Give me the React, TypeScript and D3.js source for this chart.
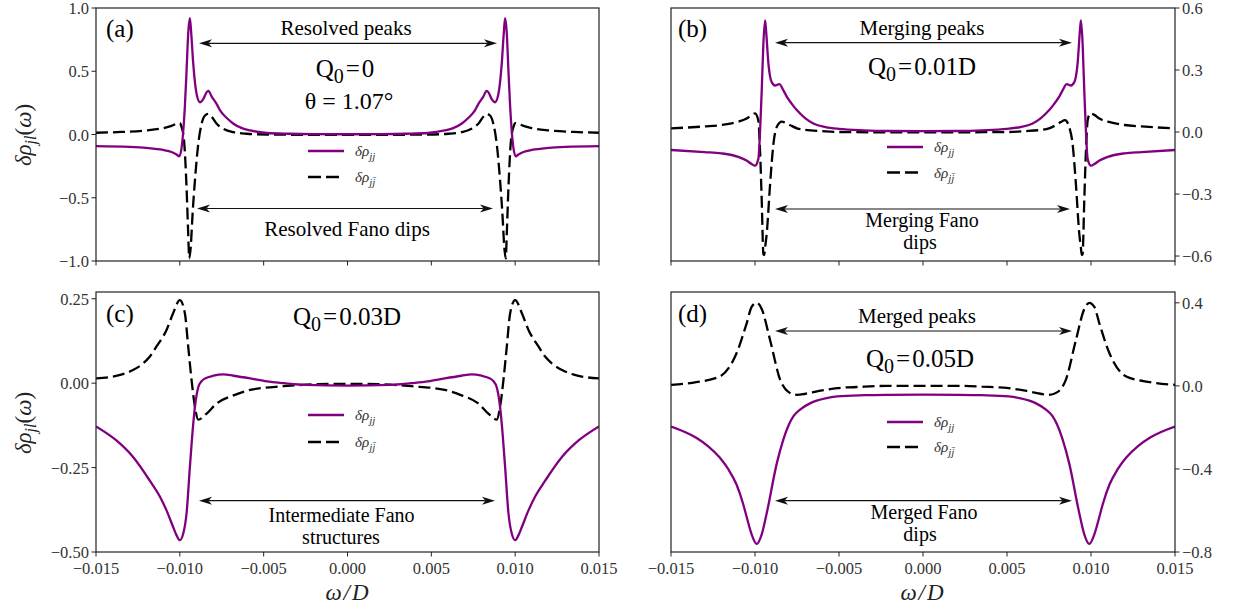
import React from "react";
import * as d3 from "d3";

type P = [number, number];

// ---------- tick values / labels ----------
const xTicks = [-0.015, -0.01, -0.005, 0, 0.005, 0.01, 0.015];
const xTickLabels = ["−0.015", "−0.010", "−0.005", "0.000", "0.005", "0.010", "0.015"];
const aYTicks = [1, 0.5, 0, -0.5, -1];
const aYTickLabels = ["1.0", "0.5", "0.0", "−0.5", "−1.0"];
const bYTicks = [0.6, 0.3, 0, -0.3, -0.6];
const bYTickLabels = ["0.6", "0.3", "0.0", "−0.3", "−0.6"];
const cYTicks = [0.25, 0, -0.25, -0.5];
const cYTickLabels = ["0.25", "0.00", "−0.25", "−0.50"];
const dYTicks = [0.4, 0, -0.4, -0.8];
const dYTickLabels = ["0.4", "0.0", "−0.4", "−0.8"];

// ---------- panel (a): Q0 = 0 ----------
const aSolid: P[] = [
  [-0.015, -0.092], [-0.013, -0.098], [-0.012, -0.106], [-0.011, -0.122], [-0.0105, -0.138], [-0.0102, -0.158],
  [-0.01003, -0.172], [-0.0099, -0.11], [-0.0098, 0.02], [-0.0097, 0.22], [-0.0096, 0.5], [-0.0095, 0.8],
  [-0.0094, 0.92], [-0.00932, 0.8], [-0.0092, 0.56], [-0.009, 0.32], [-0.0088, 0.255], [-0.0086, 0.28],
  [-0.0084, 0.335], [-0.0083, 0.345], [-0.0081, 0.3], [-0.0078, 0.24], [-0.0076, 0.19], [-0.0072, 0.13],
  [-0.0068, 0.085], [-0.0063, 0.05], [-0.0058, 0.032], [-0.0048, 0.012], [-0.0035, 0.006], [-0.002, 0.003],
  [0, 0.002],
  [0.002, 0.003], [0.0035, 0.006], [0.0048, 0.012], [0.0058, 0.032], [0.0063, 0.05], [0.0068, 0.085],
  [0.0072, 0.13], [0.0076, 0.19], [0.0078, 0.24], [0.0081, 0.3], [0.0083, 0.345], [0.0084, 0.335],
  [0.0086, 0.28], [0.0088, 0.255], [0.009, 0.32], [0.0092, 0.56], [0.00932, 0.8], [0.0094, 0.92],
  [0.0095, 0.8], [0.0096, 0.5], [0.0097, 0.22], [0.0098, 0.02], [0.0099, -0.11], [0.01003, -0.172],
  [0.0102, -0.158], [0.0105, -0.138], [0.011, -0.122], [0.012, -0.106], [0.013, -0.098], [0.015, -0.092],
];
const aDash: P[] = [
  [-0.015, 0.014], [-0.0135, 0.02], [-0.012, 0.032], [-0.011, 0.05], [-0.0105, 0.068], [-0.0102, 0.085],
  [-0.01, 0.09], [-0.0099, 0.06], [-0.00975, -0.047], [-0.0096, -0.417], [-0.0095, -0.785], [-0.00944, -0.98],
  [-0.00935, -0.89], [-0.00924, -0.627], [-0.0091, -0.364], [-0.0089, -0.074], [-0.0087, 0.085], [-0.0085, 0.15],
  [-0.0083, 0.163], [-0.0081, 0.14], [-0.0078, 0.085], [-0.0074, 0.045], [-0.0068, 0.018], [-0.006, 0.006],
  [-0.0048, 0.0], [-0.003, -0.002], [0, -0.002],
  [0.003, -0.002], [0.0048, 0.0], [0.006, 0.006], [0.0068, 0.018], [0.0074, 0.045], [0.0078, 0.085],
  [0.0081, 0.14], [0.0083, 0.163], [0.0085, 0.15], [0.0087, 0.085], [0.0089, -0.074], [0.0091, -0.364],
  [0.00924, -0.627], [0.00935, -0.89], [0.00944, -0.98], [0.0095, -0.785], [0.0096, -0.417], [0.00975, -0.047],
  [0.0099, 0.06], [0.01, 0.09], [0.0102, 0.085], [0.0105, 0.068], [0.011, 0.05], [0.012, 0.032],
  [0.0135, 0.02], [0.015, 0.014],
];

// ---------- panel (b): Q0 = 0.01D ----------
const bSolid: P[] = [
  [-0.015, -0.087], [-0.013, -0.097], [-0.012, -0.103], [-0.011, -0.12], [-0.0105, -0.138], [-0.0102, -0.155],
  [-0.01, -0.163], [-0.0098, -0.13], [-0.0097, 0.0], [-0.0096, 0.2], [-0.0095, 0.43], [-0.0094, 0.54],
  [-0.00935, 0.5], [-0.0092, 0.33], [-0.009, 0.24], [-0.0088, 0.225], [-0.00855, 0.232], [-0.0083, 0.2],
  [-0.0081, 0.17], [-0.0078, 0.135], [-0.0075, 0.105], [-0.007, 0.066], [-0.0065, 0.04], [-0.0058, 0.024],
  [-0.005, 0.015], [-0.0035, 0.008], [-0.002, 0.005], [0, 0.004],
  [0.002, 0.005], [0.0035, 0.008], [0.005, 0.015], [0.0058, 0.024], [0.0065, 0.04], [0.007, 0.066],
  [0.0075, 0.105], [0.0078, 0.135], [0.0081, 0.17], [0.0083, 0.2], [0.00855, 0.232], [0.0088, 0.225],
  [0.009, 0.24], [0.0092, 0.33], [0.00935, 0.5], [0.0094, 0.54], [0.0095, 0.43], [0.0096, 0.2],
  [0.0097, 0.0], [0.0098, -0.13], [0.01, -0.163], [0.0102, -0.155], [0.0105, -0.138], [0.011, -0.12],
  [0.012, -0.103], [0.013, -0.097], [0.015, -0.087],
];
const bDash: P[] = [
  [-0.015, 0.018], [-0.013, 0.027], [-0.012, 0.034], [-0.011, 0.05], [-0.0105, 0.065], [-0.0102, 0.083],
  [-0.01, 0.09], [-0.0098, 0.055], [-0.0097, -0.09], [-0.0096, -0.33], [-0.0095, -0.59], [-0.00945, -0.595],
  [-0.0094, -0.56], [-0.0093, -0.49], [-0.0091, -0.25], [-0.0089, -0.055], [-0.0087, 0.025], [-0.0084, 0.05],
  [-0.0082, 0.045], [-0.0079, 0.033], [-0.0075, 0.018], [-0.007, 0.01], [-0.006, 0.004], [-0.005, 0.0],
  [0, -0.002],
  [0.005, 0.0], [0.006, 0.004], [0.007, 0.01], [0.0075, 0.018], [0.0079, 0.033], [0.0082, 0.048],
  [0.00845, 0.058], [0.0087, 0.025], [0.0089, -0.055], [0.0091, -0.25], [0.0093, -0.49], [0.0094, -0.56],
  [0.00945, -0.595], [0.0095, -0.59], [0.0096, -0.33], [0.0097, -0.09], [0.0098, 0.055], [0.00995, 0.09],
  [0.0102, 0.083], [0.0105, 0.065], [0.011, 0.05], [0.012, 0.034], [0.013, 0.027], [0.015, 0.018],
];

// ---------- panel (c): Q0 = 0.03D ----------
const cSolid: P[] = [
  [-0.015, -0.128], [-0.0138, -0.169], [-0.0128, -0.218], [-0.0118, -0.288], [-0.0112, -0.335], [-0.0108, -0.376],
  [-0.0104, -0.426], [-0.0102, -0.45], [-0.01, -0.465], [-0.0098, -0.446], [-0.0096, -0.386], [-0.0094, -0.248],
  [-0.0092, -0.12], [-0.0091, -0.07], [-0.009, -0.035], [-0.0089, -0.012], [-0.0087, 0.006], [-0.0084, 0.016],
  [-0.008, 0.022], [-0.0074, 0.026], [-0.0068, 0.022],
  [-0.0058, 0.014], [-0.0048, 0.005], [-0.0038, 0.0], [-0.0025, -0.005], [0, -0.007],
  [0.0025, -0.005], [0.0038, 0.0], [0.0048, 0.005], [0.0058, 0.014], [0.0068, 0.022], [0.0074, 0.026],
  [0.008, 0.022], [0.0084, 0.016], [0.0087, 0.006], [0.0089, -0.012], [0.009, -0.035], [0.0091, -0.07],
  [0.0092, -0.12], [0.0094, -0.248], [0.0096, -0.386],
  [0.0098, -0.446], [0.01, -0.465], [0.0102, -0.45], [0.0104, -0.426], [0.0108, -0.376], [0.0112, -0.335],
  [0.0118, -0.288], [0.0128, -0.218], [0.0138, -0.169], [0.015, -0.128],
];
const cDash: P[] = [
  [-0.015, 0.014], [-0.0135, 0.025], [-0.0128, 0.039], [-0.0122, 0.058], [-0.0118, 0.078], [-0.0114, 0.108],
  [-0.0108, 0.157], [-0.0104, 0.207], [-0.01, 0.246], [-0.0097, 0.207], [-0.0095, 0.108], [-0.0093, 0.009],
  [-0.0091, -0.07], [-0.0089, -0.108], [-0.0084, -0.09], [-0.0078, -0.06], [-0.0068, -0.036], [-0.0058, -0.02],
  [-0.0038, -0.009], [-0.0018, -0.003], [0, -0.002],
  [0.0018, -0.003], [0.0038, -0.009], [0.0058, -0.02], [0.0068, -0.036], [0.0078, -0.06], [0.0084, -0.09],
  [0.0089, -0.108], [0.0091, -0.07], [0.0093, 0.009], [0.0095, 0.108], [0.0097, 0.207], [0.01, 0.246],
  [0.0104, 0.207], [0.0108, 0.157], [0.0114, 0.108], [0.0118, 0.078], [0.0122, 0.058], [0.0128, 0.039],
  [0.0135, 0.025], [0.015, 0.014],
];

// ---------- panel (d): Q0 = 0.05D ----------
const dSolid: P[] = [
  [-0.015, -0.196], [-0.0135, -0.25], [-0.0128, -0.29], [-0.0121, -0.345], [-0.0116, -0.4], [-0.0111, -0.475],
  [-0.0107, -0.57], [-0.0105, -0.63], [-0.0102, -0.715],
  [-0.0099, -0.761], [-0.0096, -0.715], [-0.0093, -0.612], [-0.0087, -0.372], [-0.0083, -0.255], [-0.008, -0.19],
  [-0.0077, -0.145], [-0.0073, -0.113],
  [-0.0067, -0.083], [-0.0058, -0.06], [-0.0051, -0.051], [-0.0035, -0.045], [-0.0022, -0.043], [0, -0.042],
  [0.0022, -0.043], [0.0035, -0.045], [0.0051, -0.051], [0.0058, -0.06], [0.0067, -0.083],
  [0.0073, -0.113], [0.0077, -0.145], [0.008, -0.19], [0.0083, -0.255],
  [0.0087, -0.372], [0.0093, -0.612], [0.0096, -0.715], [0.0099, -0.761], [0.0102, -0.715],
  [0.0105, -0.63], [0.0107, -0.57], [0.0111, -0.475], [0.0116, -0.4], [0.0121, -0.345], [0.0128, -0.29],
  [0.0135, -0.25], [0.015, -0.196],
];
const dDash: P[] = [
  [-0.015, 0.005], [-0.0135, 0.018], [-0.0121, 0.045], [-0.0111, 0.157], [-0.0105, 0.3], [-0.0102, 0.38],
  [-0.0099, 0.4], [-0.0096, 0.37], [-0.0091, 0.22], [-0.0085, 0.029], [-0.008, -0.03], [-0.0075, -0.043],
  [-0.007, -0.038], [-0.006, -0.022], [-0.0051, -0.011], [-0.0035, -0.004], [-0.0022, 0.0], [0, 0.0],
  [0.0022, 0.0], [0.0035, -0.004], [0.0051, -0.011], [0.006, -0.022], [0.007, -0.038], [0.0075, -0.043],
  [0.008, -0.03], [0.0085, 0.029], [0.0091, 0.22], [0.0096, 0.37], [0.0099, 0.4], [0.0102, 0.38],
  [0.0105, 0.3], [0.0111, 0.157], [0.0121, 0.045], [0.0135, 0.018], [0.015, 0.005],
];

const PURPLE = "#800080";
const SERIF = "'Liberation Serif', 'Times New Roman', serif";
const TICKC = "#333";

interface PanelProps {
  id: string;
  x0: number; x1: number; y0: number; y1: number;
  yDom: [number, number];
  yTicks: number[]; yLabels: string[];
  side: "left" | "right";
  showX: boolean;
  solid: P[]; dash: P[];
}

function Panel(p: PanelProps) {
  const x = d3.scaleLinear().domain([-0.015, 0.015]).range([p.x0, p.x1]);
  const y = d3.scaleLinear().domain(p.yDom).range([p.y1, p.y0]);
  const line = d3.line<P>().x(d => x(d[0])).y(d => y(d[1])).curve(d3.curveMonotoneX);
  const ax = p.side === "left" ? p.x0 : p.x1;
  return (
    <g>
      <defs>
        <clipPath id={"clip" + p.id}>
          <rect x={p.x0} y={p.y0} width={p.x1 - p.x0} height={p.y1 - p.y0} />
        </clipPath>
      </defs>
      <g clipPath={`url(#clip${p.id})`}>
        <path d={line(p.dash) || ""} fill="none" stroke="#000" strokeWidth={2.3} strokeDasharray="12,5" />
        <path d={line(p.solid) || ""} fill="none" stroke={PURPLE} strokeWidth={2.3} />
      </g>
      <rect x={p.x0} y={p.y0} width={p.x1 - p.x0} height={p.y1 - p.y0} fill="none" stroke="#222" strokeWidth={1.2} />
      {xTicks.map((t, i) => (
        <g key={"xt" + i}>
          <line x1={x(t)} x2={x(t)} y1={p.y1} y2={p.y1 + 4.5} stroke="#222" strokeWidth={1} />
          {p.showX && (
            <text x={x(t)} y={p.y1 + 22} textAnchor="middle" fontFamily={SERIF} fontSize={16.5} fill={TICKC}>
              {xTickLabels[i]}
            </text>
          )}
        </g>
      ))}
      {p.yTicks.map((t, i) => (
        <g key={"yt" + i}>
          <line x1={ax} x2={p.side === "left" ? ax - 4.5 : ax + 4.5} y1={y(t)} y2={y(t)} stroke="#222" strokeWidth={1} />
          <text
            x={p.side === "left" ? ax - 7 : ax + 7}
            y={y(t) + 6}
            textAnchor={p.side === "left" ? "end" : "start"}
            fontFamily={SERIF}
            fontSize={16.5}
            fill={TICKC}
          >
            {p.yLabels[i]}
          </text>
        </g>
      ))}
    </g>
  );
}

function Arrow({ xa, xb, yy }: { xa: number; xb: number; yy: number }) {
  const L = 13, w = 4, n = 9.5;
  return (
    <g>
      <line x1={xa + n} x2={xb - n} y1={yy} y2={yy} stroke="#111" strokeWidth={1.2} />
      <path d={`M${xb},${yy} L${xb - L},${yy - w} L${xb - n},${yy} L${xb - L},${yy + w} Z`} fill="#111" />
      <path d={`M${xa},${yy} L${xa + L},${yy - w} L${xa + n},${yy} L${xa + L},${yy + w} Z`} fill="#111" />
    </g>
  );
}

function Q0({ cx, y, val }: { cx: number; y: number; val: string }) {
  return (
    <text x={cx} y={y} textAnchor="middle" fontFamily={SERIF} fontSize={25} fill="#000">
      <tspan>Q</tspan>
      <tspan fontSize={20} dy={6}>0</tspan>
      <tspan dy={-6} dx={2}>=</tspan>
      <tspan dx={2}>{val}</tspan>
    </text>
  );
}

function Legend({ lx, ly1, ly2 }: { lx: number; ly1: number; ly2: number }) {
  return (
    <g>
      <line x1={lx} x2={lx + 36} y1={ly1} y2={ly1} stroke={PURPLE} strokeWidth={2.5} />
      <line x1={lx} x2={lx + 36} y1={ly2} y2={ly2} stroke="#000" strokeWidth={2.5} strokeDasharray="13,5" />
      <text x={lx + 47} y={ly1 + 5} fontFamily={SERIF} fontSize={15} fill={TICKC} fontStyle="italic">
        <tspan>δρ</tspan>
        <tspan fontSize={11} dy={4}>jj</tspan>
      </text>
      <text x={lx + 47} y={ly2 + 5} fontFamily={SERIF} fontSize={15} fill={TICKC} fontStyle="italic">
        <tspan>δρ</tspan>
        <tspan fontSize={11} dy={4}>{"jj\u0304"}</tspan>
      </text>
    </g>
  );
}

function YLabel({ cx, cy }: { cx: number; cy: number }) {
  return (
    <text transform={`translate(${cx},${cy}) rotate(-90)`} textAnchor="middle" fontFamily={SERIF} fontSize={23} fill="#222">
      <tspan fontStyle="italic">δρ</tspan>
      <tspan fontStyle="italic" fontSize={16} dy={5}>jl</tspan>
      <tspan dy={-5}>(</tspan>
      <tspan fontStyle="italic">ω</tspan>
      <tspan>)</tspan>
    </text>
  );
}

const T = ({ x, y, s = 21, children }: { x: number; y: number; s?: number; children: React.ReactNode }) => (
  <text x={x} y={y} textAnchor="middle" fontFamily={SERIF} fontSize={s} fill="#000">{children}</text>
);

export default function App() {
  return (
    <div style={{ position: "absolute", left: 0, top: 0 }}>
      <svg width={1238} height={612} style={{ display: "block", background: "#fff" }}>
        <Panel id="a" x0={96} x1={599} y0={8} y1={261} yDom={[-1, 1]} yTicks={aYTicks} yLabels={aYTickLabels}
          side="left" showX={false} solid={aSolid} dash={aDash} />
        <Panel id="b" x0={671} x1={1175} y0={8} y1={261} yDom={[-0.624, 0.6]} yTicks={bYTicks} yLabels={bYTickLabels}
          side="right" showX={false} solid={bSolid} dash={bDash} />
        <Panel id="c" x0={96} x1={599} y0={292} y1={552} yDom={[-0.5, 0.27]} yTicks={cYTicks} yLabels={cYTickLabels}
          side="left" showX={true} solid={cSolid} dash={cDash} />
        <Panel id="d" x0={671} x1={1175} y0={292} y1={552} yDom={[-0.8, 0.452]} yTicks={dYTicks} yLabels={dYTickLabels}
          side="right" showX={true} solid={dSolid} dash={dDash} />

        {/* panel letters */}
        <text x={106} y={37} fontFamily={SERIF} fontSize={25}>(a)</text>
        <text x={678} y={37} fontFamily={SERIF} fontSize={25}>(b)</text>
        <text x={106} y={322} fontFamily={SERIF} fontSize={25}>(c)</text>
        <text x={678} y={322} fontFamily={SERIF} fontSize={25}>(d)</text>

        {/* (a) annotations */}
        <T x={346} y={35}>Resolved peaks</T>
        <Arrow xa={199} xb={497} yy={43.3} />
        <Q0 cx={345} y={77} val="0" />
        <T x={349} y={109} s={24}>θ = 1.07°</T>
        <Legend lx={308} ly1={151} ly2={177} />
        <Arrow xa={197} xb={493} yy={208.5} />
        <T x={347} y={236}>Resolved Fano dips</T>

        {/* (b) annotations */}
        <T x={922} y={35}>Merging peaks</T>
        <Arrow xa={775} xb={1072} yy={42.7} />
        <Q0 cx={922} y={75} val="0.01D" />
        <Legend lx={887} ly1={147} ly2={172.5} />
        <Arrow xa={775} xb={1070} yy={209} />
        <T x={922} y={227} s={20}>Merging Fano</T>
        <T x={920} y={249} s={20}>dips</T>

        {/* (c) annotations */}
        <Q0 cx={347} y={325} val="0.03D" />
        <Legend lx={308} ly1={415} ly2={442} />
        <Arrow xa={199} xb={495} yy={500.7} />
        <T x={341.5} y={522} s={20}>Intermediate Fano</T>
        <T x={341} y={544} s={20}>structures</T>

        {/* (d) annotations */}
        <T x={917} y={323}>Merged peaks</T>
        <Arrow xa={775} xb={1072} yy={331} />
        <Q0 cx={920} y={367} val="0.05D" />
        <Legend lx={887} ly1={422} ly2={447} />
        <Arrow xa={775} xb={1072} yy={500.7} />
        <T x={924} y={519} s={20}>Merged Fano</T>
        <T x={920} y={541} s={20}>dips</T>

        {/* axis labels */}
        <YLabel cx={31} cy={135} />
        <YLabel cx={31} cy={423} />
        <text x={348} y={600} textAnchor="middle" fontFamily={SERIF} fontSize={23} fontStyle="italic" letterSpacing={2} fill="#222">ω/D</text>
        <text x={923} y={600} textAnchor="middle" fontFamily={SERIF} fontSize={23} fontStyle="italic" letterSpacing={2} fill="#222">ω/D</text>
      </svg>
    </div>
  );
}
